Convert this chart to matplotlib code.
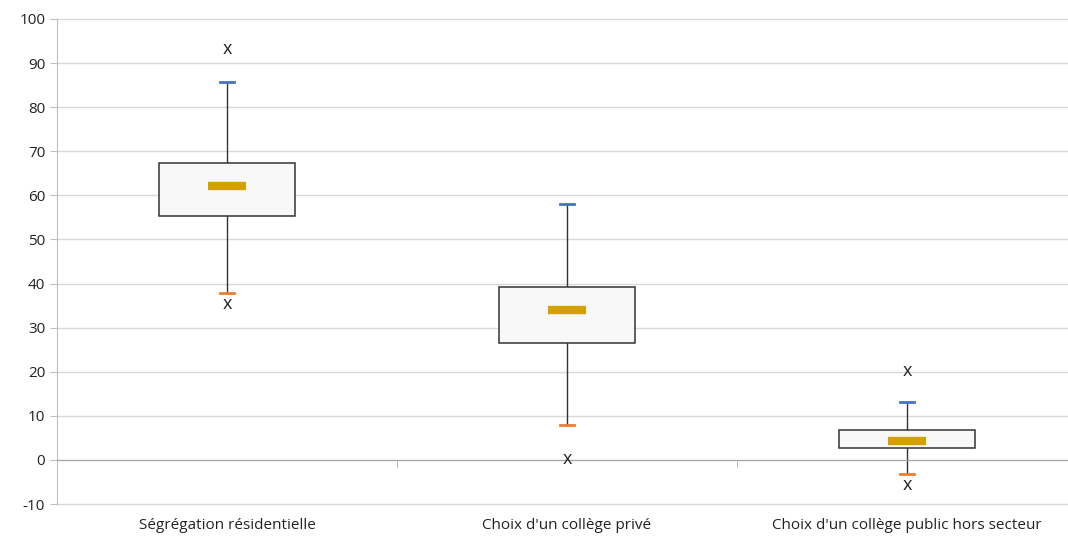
import matplotlib
matplotlib.use('Agg')
import matplotlib.pyplot as plt
from matplotlib.patches import Rectangle

categories = ["Ségrégation résidentielle", "Choix d'un collège privé",
              "Choix d'un collège public hors secteur"]
whisker_low = [37.9, 7.9, -3.2]
q1 = [55.4, 26.5, 2.8]
median = [62.2, 34.0, 4.3]
q3 = [67.4, 39.2, 6.8]
whisker_high = [85.6, 58.0, 13.1]
outliers = [[93.2, 35.4], [0.2], [20.2, -5.8]]

plt.rcParams['font.family'] = ['Open Sans', 'DejaVu Sans']
plt.rcParams['axes.unicode_minus'] = False

fig = plt.figure(figsize=(10.68, 5.37), dpi=100)
ax = fig.add_axes([57 / 1068, 1 - 504 / 537, 1 - 57 / 1068, (504 - 19) / 537])

ax.set_xlim(0.5, 3.474)
ax.set_ylim(-10, 100)
ax.set_yticks(range(-10, 101, 10))
ax.grid(axis='y', color='#d9d9d9', lw=1, clip_on=False)
ax.set_axisbelow(True)
for s in ['top', 'right']:
    ax.spines[s].set_visible(False)
ax.spines['left'].set_color('#bfbfbf')
ax.spines['bottom'].set_position(('data', 0))
ax.spines['bottom'].set_color('#a6a6a6')
ax.tick_params(axis='y', colors='#bfbfbf', labelcolor='#222222', labelsize=11, length=5)

ax.set_xticks([1, 2, 3])
ax.set_xticklabels(categories, fontsize=11, color='#222222')
ax.set_xticks([1.5, 2.5], minor=True)
ax.tick_params(axis='x', which='major', length=0, pad=42)
ax.tick_params(axis='x', which='minor', length=5, colors='#a6a6a6')

box_w = 0.40
cap_w = 0.04
med_w = 0.11
for i in range(len(categories)):
    x = i + 1
    ax.plot([x, x], [q3[i], whisker_high[i]], color='#333333', lw=1, zorder=2)
    ax.plot([x, x], [whisker_low[i], q1[i]], color='#333333', lw=1, zorder=2)
    ax.plot([x - cap_w / 2, x + cap_w / 2], [whisker_high[i]] * 2, color='#4472c4', lw=2, zorder=3)
    ax.plot([x - cap_w / 2, x + cap_w / 2], [whisker_low[i]] * 2, color='#ed7d31', lw=2, zorder=3)
    ax.add_patch(Rectangle((x - box_w / 2, q1[i]), box_w, q3[i] - q1[i],
                           facecolor='#f8f8f8', edgecolor='#333333', lw=1.1, zorder=3))
    ax.plot([x - med_w / 2, x + med_w / 2], [median[i]] * 2, color='#d4a000', lw=6,
            solid_capstyle='butt', zorder=4)
    for v in outliers[i]:
        ax.text(x, v, 'x', ha='center', va='center', fontsize=13, color='#222222', zorder=5)

fig.savefig('out.png', dpi=100)
